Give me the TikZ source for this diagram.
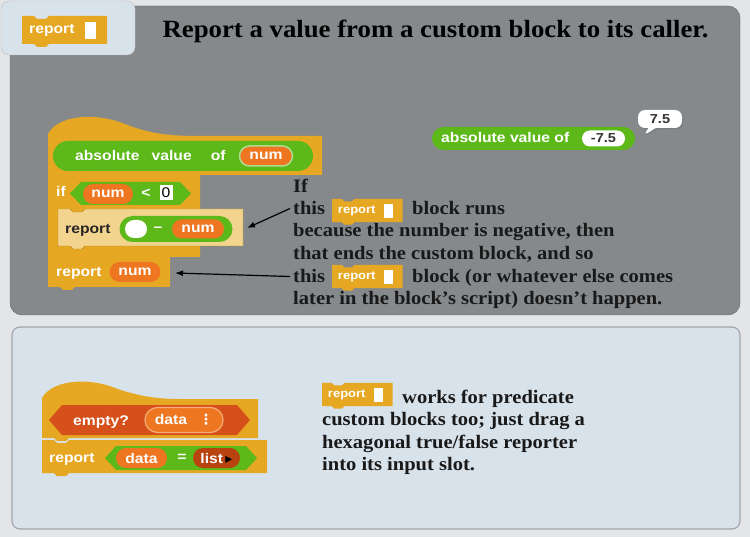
\documentclass[tikz,border=0pt]{standalone}
\usepackage{fontspec}
\setmainfont[FakeStretch=1.08]{Liberation Serif}
\newfontfamily\blockfont[FakeStretch=1.12]{Liberation Sans}
\newfontfamily\symfont{DejaVu Sans}
\usetikzlibrary{arrows.meta, shapes.misc, shapes.callouts, shadows}

\definecolor{pagebg}{HTML}{E3E5E8}
\definecolor{panelgray}{HTML}{85898C}
\definecolor{panelblue}{HTML}{D8E2EA}
\definecolor{ctrl}{HTML}{E6A822}
\definecolor{zebractrl}{HTML}{F2D48E}
\definecolor{opgreen}{HTML}{5DB81A}
\definecolor{varorange}{HTML}{EF7620}
\definecolor{listred}{HTML}{D5501A}
\definecolor{listdark}{HTML}{B8430F}

% command block: notch on top, bump below
\newcommand{\cmdblock}[5]{%
  \fill[#5] (#1,#2) -- ++(12,0) -- ++(3,3) -- ++(9,0) -- ++(3,-3) -- (#1+#3,#2)
    -- (#1+#3,#2+#4) -- (#1+27,#2+#4) -- ++(-3,3) -- ++(-9,0) -- ++(-3,-3) -- (#1,#2+#4) -- cycle;}

% predicate hexagon
\newcommand{\hexblock}[6]{%
  \fill[#6] (#1,#2/2+#4/2) -- (#1+#5,#2) -- (#3-#5,#2) -- (#3,#2/2+#4/2) -- (#3-#5,#4) -- (#1+#5,#4) -- cycle;}

% report block with an empty slot
\newcommand{\reportblk}[3]{%
  \begin{scope}[shift={#2}, scale=#3, transform shape]
    \cmdblock{0}{0}{85}{28}{fill=ctrl}
    \node[blk, anchor=west] (#1) at (7,14) {report};
    \fill[white] (63,6) rectangle (74,23);
  \end{scope}}

\begin{document}
\begin{tikzpicture}[x=1pt, y=-1pt, >={Latex[length=8pt,width=6pt]},
    blk/.style={font=\blockfont\bfseries\fontsize{14}{14}\selectfont, text=white, inner sep=0pt},
    varpill/.style={rounded rectangle, fill=varorange, blk, minimum height=20pt, inner xsep=0pt, inner ysep=0pt},
    oppill/.style={rounded rectangle, fill=opgreen, inner sep=0pt},
    note/.style={font=\bfseries\fontsize{19}{22}\selectfont, text=black!90, inner sep=0pt, anchor=base west}]
  \useasboundingbox (0,0) rectangle (750,537);
  \fill[pagebg] (0,0) rectangle (750,537);

  % panels
  \draw[fill=panelgray, draw=panelgray!75!black, rounded corners=12pt] (10,6) rectangle (740,315);
  \draw[fill=panelblue, draw=gray!70, line width=1.2pt, rounded corners=8pt] (12,327) rectangle (740,529);
  \draw[fill=panelblue, draw=gray!50, rounded corners=8pt] (1,1) rectangle (135,55);

  \node[anchor=base west, font=\bfseries\fontsize{24.8}{28}\selectfont] (title) at (159,38)
    {Report a value from a custom block to its caller.};
  \reportblk{tabrep}{(22,16)}{1}

  % block definition
  \fill[ctrl] (48,175) -- (48,134) .. controls (58,115) and (95,112) .. (125,124)
    .. controls (150,134) and (170,136) .. (200,136) -- (322,136) -- (322,175)
    -- (75,175) -- ++(-3,3) -- ++(-9,0) -- ++(-3,-3) -- cycle;
  \node[oppill, minimum width=260pt, minimum height=30pt] (absproto) at (183,156) {};
  \node[blk, anchor=base west] (abstxt) at (75,161) {absolute\hspace{12pt}value\hspace{19pt}of};
  \node[varpill, minimum width=53pt, draw=opgreen!50!white, line width=1.5pt] (numA) at (266,156) {num};

  \fill[ctrl] (48,175) -- ++(12,0) -- ++(3,3) -- ++(9,0) -- ++(3,-3) -- (200,175) -- (200,209)
    -- (85,209) -- ++(-3,3) -- ++(-9,0) -- ++(-3,-3) -- (58,209) -- (58,246) -- (200,246)
    -- (200,257) -- (75,257) -- ++(-3,3) -- ++(-9,0) -- ++(-3,-3) -- (48,257) -- cycle;
  \node[blk, anchor=base west] (iftxt) at (56,197) {if};
  \hexblock{70}{182}{191}{205}{11}{opgreen}
  \node[varpill, minimum width=50pt] (numB) at (108,194) {num};
  \node[blk] (lt) at (146,193) {<};
  \node[fill=white, minimum width=13pt, minimum height=15pt, inner sep=0pt,
    font=\blockfont\fontsize{14}{14}\selectfont] (zero) at (166,193) {0};

  \cmdblock{58}{209}{185}{37}{fill=zebractrl, draw=ctrl!80!black, line width=0.4pt}
  \node[blk, text=black!85, anchor=base west] (reptxt) at (65,234) {report};
  \node[oppill, minimum width=113pt, minimum height=26pt] (minus) at (176,229) {};
  \node[rounded rectangle, fill=white, minimum width=22pt, minimum height=18pt, inner sep=0pt] (slot) at (136,229) {};
  \node[blk] (dash) at (158,229) {–};
  \node[varpill, minimum width=52pt, minimum height=19pt] (numC) at (198,229) {num};

  \cmdblock{48}{257}{122}{30}{fill=ctrl}
  \node[blk, anchor=base west] (repnumtxt) at (56,277) {report};
  \node[varpill, minimum width=51pt] (numD) at (135,272) {num};

  % explanation
  \node[note] (ifline) at (293,193) {If};
  \node[note] (thisA) at (293,215) {this};
  \reportblk{repA}{(332,199)}{0.83}
  \node[note] (runs) at (412,215) {block runs};
  \node[note] (becl) at (293,237) {because the number is negative, then};
  \node[note] (endl) at (293,260) {that ends the custom block, and so};
  \node[note] (thisB) at (293,283) {this};
  \reportblk{repB}{(332,265)}{0.83}
  \node[note] (orl) at (412,283) {block (or whatever else comes};
  \node[note] (laterl) at (293,305) {later in the block’s script) doesn’t happen.};

  \coordinate (innerend) at (247,228);
  \coordinate (numend) at (175,273);
  \draw[->, line width=1.2pt] ([xshift=-3pt]thisA.west) -- (innerend);
  \draw[->, line width=1.2pt] ([xshift=-3pt]thisB.west) -- (numend);

  % result of a call
  \node[oppill, minimum width=203pt, minimum height=23pt] (absrun) at (533.5,138.5) {};
  \node[blk, anchor=base west] (absruntxt) at (441,143) {absolute value of};
  \node[rounded rectangle, fill=white, minimum width=43pt, minimum height=16pt, inner sep=0pt,
    font=\blockfont\bfseries\fontsize{13}{13}\selectfont, text=black!80] (neg) at (603.5,138.5) {-7.5};
  \node[rectangle callout, rounded corners=7pt, fill=white, minimum width=44pt, minimum height=18pt,
    inner sep=0pt, callout absolute pointer={(643,136)},
    drop shadow={shadow xshift=1.5pt, shadow yshift=-1.5pt, fill=black!55},
    font=\blockfont\bfseries\fontsize{13}{13}\selectfont, text=black!80] (bubble) at (660,119) {7.5};

  % predicate example
  \fill[ctrl] (42,438) -- (42,398) .. controls (52,380) and (88,377) .. (115,388)
    .. controls (140,397) and (160,399) .. (180,399) -- (258,399) -- (258,438)
    -- (69,438) -- ++(-3,3) -- ++(-9,0) -- ++(-3,-3) -- cycle;
  \hexblock{49}{405}{250}{435}{13}{listred}
  \node[blk, anchor=base west] (emptytxt) at (73,425) {empty?};
  \node[varpill, minimum width=78pt, minimum height=25pt, draw=varorange!60!white, line width=1.2pt]
    (dataA) at (184,420) {data\hspace{12pt}{\symfont ⋮}};

  \cmdblock{42}{440}{225}{33}{fill=ctrl}
  \node[blk, anchor=base west] (reptxtB) at (49,462) {report};
  \hexblock{105}{446}{257}{470}{11}{opgreen}
  \node[varpill, minimum width=51pt] (dataB) at (141.5,458) {data};
  \node[blk] (eq) at (182,458) {=};
  \node[rounded rectangle, fill=listdark, blk, minimum width=47pt, minimum height=20pt] (listrep)
    at (216.5,458) {list\,{\symfont\textcolor{black}{▸}}};

  \reportblk{repC}{(322,383)}{0.83}
  \node[note] (worksl) at (402,403) {works for predicate};
  \node[note] (customl) at (322,425) {custom blocks too; just drag a};
  \node[note] (hexl) at (322,448) {hexagonal true/false reporter};
  \node[note] (intol) at (322,470) {into its input slot.};
\end{tikzpicture}
\end{document}
